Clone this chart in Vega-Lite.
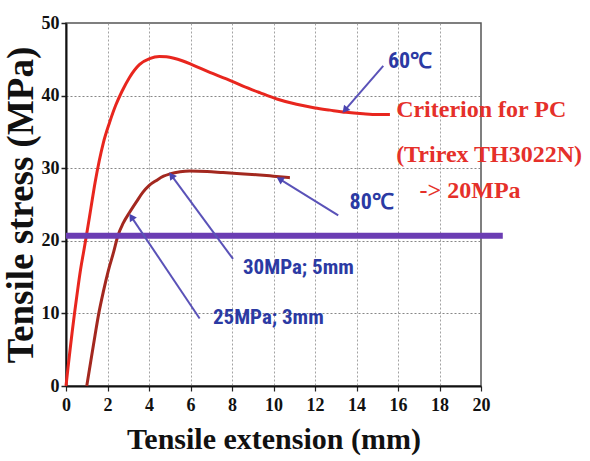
{
  "$schema": "https://vega.github.io/schema/vega-lite/v6.json",
  "width": 415,
  "height": 363,
  "autosize": "none",
  "padding": {"left": 66, "top": 23, "right": 109, "bottom": 75},
  "background": "white",
  "datasets": {
    "curves": [
      {"series": "60", "x": 0, "y": 0},
      {"series": "60", "x": 0.1, "y": 2.6},
      {"series": "60", "x": 0.2, "y": 5.1},
      {"series": "60", "x": 0.3, "y": 7.5},
      {"series": "60", "x": 0.41, "y": 10},
      {"series": "60", "x": 0.55, "y": 13},
      {"series": "60", "x": 0.7, "y": 16},
      {"series": "60", "x": 0.85, "y": 18.5},
      {"series": "60", "x": 1.0, "y": 21},
      {"series": "60", "x": 1.2, "y": 24.5},
      {"series": "60", "x": 1.4, "y": 28},
      {"series": "60", "x": 1.6, "y": 31},
      {"series": "60", "x": 1.8, "y": 33.5},
      {"series": "60", "x": 2.1, "y": 36.3},
      {"series": "60", "x": 2.4, "y": 38.7},
      {"series": "60", "x": 2.7, "y": 40.6},
      {"series": "60", "x": 3.06, "y": 42.5},
      {"series": "60", "x": 3.55, "y": 44.3},
      {"series": "60", "x": 4.03, "y": 45.1},
      {"series": "60", "x": 4.5, "y": 45.4},
      {"series": "60", "x": 4.84, "y": 45.35},
      {"series": "60", "x": 5.2, "y": 45.15},
      {"series": "60", "x": 5.6, "y": 44.8},
      {"series": "60", "x": 6.12, "y": 44.2},
      {"series": "60", "x": 6.93, "y": 43.2},
      {"series": "60", "x": 7.73, "y": 42.3},
      {"series": "60", "x": 8.53, "y": 41.3},
      {"series": "60", "x": 9.34, "y": 40.4},
      {"series": "60", "x": 10.2, "y": 39.5},
      {"series": "60", "x": 11.11, "y": 38.8},
      {"series": "60", "x": 12.0, "y": 38.3},
      {"series": "60", "x": 12.72, "y": 38.0},
      {"series": "60", "x": 13.5, "y": 37.7},
      {"series": "60", "x": 14.32, "y": 37.5},
      {"series": "60", "x": 15.0, "y": 37.4},
      {"series": "60", "x": 15.61, "y": 37.4},
      {"series": "80", "x": 1.0, "y": 0},
      {"series": "80", "x": 1.2, "y": 3.5},
      {"series": "80", "x": 1.4, "y": 7},
      {"series": "80", "x": 1.58, "y": 10},
      {"series": "80", "x": 1.8, "y": 13},
      {"series": "80", "x": 2.05, "y": 16},
      {"series": "80", "x": 2.3, "y": 18.5},
      {"series": "80", "x": 2.5, "y": 20.7},
      {"series": "80", "x": 2.75, "y": 22.4},
      {"series": "80", "x": 3.06, "y": 23.9},
      {"series": "80", "x": 3.4, "y": 25.4},
      {"series": "80", "x": 3.71, "y": 26.7},
      {"series": "80", "x": 4.0, "y": 27.6},
      {"series": "80", "x": 4.35, "y": 28.3},
      {"series": "80", "x": 4.7, "y": 28.9},
      {"series": "80", "x": 5.0, "y": 29.2},
      {"series": "80", "x": 5.5, "y": 29.5},
      {"series": "80", "x": 5.96, "y": 29.6},
      {"series": "80", "x": 6.8, "y": 29.55},
      {"series": "80", "x": 7.57, "y": 29.4},
      {"series": "80", "x": 8.4, "y": 29.25},
      {"series": "80", "x": 9.18, "y": 29.1},
      {"series": "80", "x": 10.0, "y": 28.9},
      {"series": "80", "x": 10.79, "y": 28.7}
    ],
    "criterion": [{"x": 0, "x2": 21.05, "y": 20.7}],
    "arrows": [
      {"name": "60C", "hx": 13.44, "hy": 38.0, "tx": 15.29, "ty": 44.1},
      {"name": "80C", "hx": 10.3, "hy": 28.5, "tx": 13.12, "ty": 23.5},
      {"name": "30MPa", "hx": 5.08, "hy": 29.0, "tx": 8.05, "ty": 17.5},
      {"name": "25MPa", "hx": 3.15, "hy": 23.3, "tx": 6.44, "ty": 9.3}
    ],
    "blueCenter": [
      {"text": "60℃", "x": 16.58, "y": 44.8},
      {"text": "80℃", "x": 14.73, "y": 25.3}
    ],
    "blueLeft": [
      {"text": "30MPa; 5mm", "x": 8.53, "y": 16.2},
      {"text": "25MPa; 3mm", "x": 7.08, "y": 9.3}
    ],
    "redText": [
      {"text": "Criterion for PC", "x": 15.91, "y": 38.0},
      {"text": "(Trirex TH3022N)", "x": 15.91, "y": 31.8},
      {"text": "-> 20MPa", "x": 17.04, "y": 26.8}
    ]
  },
  "layer": [
    {
      "data": {"name": "curves"},
      "mark": {"type": "line", "interpolate": "monotone", "strokeWidth": 3},
      "encoding": {
        "x": {
          "field": "x", "type": "quantitative",
          "scale": {"domain": [0, 20], "nice": false, "zero": false},
          "axis": {
            "title": "Tensile extension (mm)",
            "values": [0,1,2,3,4,5,6,7,8,9,10,11,12,13,14,15,16,17,18,19,20],
            "labelExpr": "datum.value % 2 === 0 ? datum.label : ''",
            "labelFont": "Liberation Serif", "labelFontWeight": "bold", "labelFontSize": 18,
            "labelColor": "#111", "labelPadding": 5, "labelFlush": false,
            "tickSize": 5, "tickColor": "#222", "tickWidth": 1.2,
            "domainColor": "#111", "domainWidth": 2,
            "grid": true, "gridColor": "#8c8c8c", "gridDash": [2, 2], "gridWidth": 1,
            "gridOpacity": {"condition": {"test": "datum.value > 0 && datum.value < 20", "value": 0.8}, "value": 0},
            "titleFont": "Liberation Serif", "titleFontWeight": "bold", "titleFontSize": 30,
            "titleColor": "#111", "titlePadding": 10
          }
        },
        "y": {
          "field": "y", "type": "quantitative",
          "scale": {"domain": [0, 50], "nice": false, "zero": false},
          "axis": {
            "title": "Tensile stress (MPa)",
            "values": [0,5,10,15,20,25,30,35,40,45,50],
            "labelExpr": "datum.value % 10 === 0 ? datum.label : ''",
            "labelFont": "Liberation Serif", "labelFontWeight": "bold", "labelFontSize": 18,
            "labelColor": "#111", "labelPadding": 2, "labelFlush": false,
            "tickSize": 5, "tickColor": "#222", "tickWidth": 1.5,
            "domainColor": "#111", "domainWidth": 2,
            "grid": true, "gridColor": "#7a7a7a", "gridDash": [2, 2], "gridWidth": 1.2,
            "gridOpacity": {"condition": {"test": "datum.value % 10 === 0 && datum.value > 0 && datum.value < 50", "value": 0.9}, "value": 0},
            "titleFont": "Liberation Serif", "titleFontWeight": "bold", "titleFontSize": 37,
            "titleColor": "#111", "titlePadding": 1
          }
        },
        "color": {
          "field": "series", "type": "nominal",
          "scale": {"domain": ["60", "80"], "range": ["#e8261e", "#a3281f"]},
          "legend": null
        },
        "order": {"field": "x", "type": "quantitative"}
      }
    },
    {
      "data": {"name": "criterion"},
      "mark": {"type": "rule", "color": "#6b3db3", "strokeWidth": 6},
      "encoding": {
        "x": {"field": "x", "type": "quantitative"},
        "x2": {"field": "x2"},
        "y": {"field": "y", "type": "quantitative"}
      }
    },
    {
      "data": {"name": "arrows"},
      "mark": {"type": "rule", "color": "#5a52b8", "strokeWidth": 2},
      "encoding": {
        "x": {"field": "tx", "type": "quantitative"},
        "y": {"field": "ty", "type": "quantitative"},
        "x2": {"field": "hx"},
        "y2": {"field": "hy"}
      }
    },
    {
      "data": {"name": "arrows"},
      "transform": [
        {"calculate": "atan2((datum.hx - datum.tx) * 20.75, (datum.hy - datum.ty) * 7.26) * 180 / PI", "as": "ang"}
      ],
      "mark": {"type": "point", "shape": "triangle-up", "filled": true, "color": "#4a44b0", "size": 70, "opacity": 1},
      "encoding": {
        "x": {"field": "hx", "type": "quantitative"},
        "y": {"field": "hy", "type": "quantitative"},
        "angle": {"field": "ang", "type": "quantitative", "scale": null}
      }
    },
    {
      "data": {"name": "blueCenter"},
      "mark": {"type": "text", "align": "center", "baseline": "middle", "font": "Liberation Sans Narrow, Roboto Condensed, Roboto, sans-serif", "fontWeight": "bold", "fontSize": 22, "color": "#2b3aa3"},
      "encoding": {
        "x": {"field": "x", "type": "quantitative"},
        "y": {"field": "y", "type": "quantitative"},
        "text": {"field": "text"}
      }
    },
    {
      "data": {"name": "blueLeft"},
      "mark": {"type": "text", "align": "left", "baseline": "middle", "font": "Liberation Sans Narrow, Roboto Condensed, Roboto, sans-serif", "fontWeight": "bold", "fontSize": 21, "color": "#2b3aa3"},
      "encoding": {
        "x": {"field": "x", "type": "quantitative"},
        "y": {"field": "y", "type": "quantitative"},
        "text": {"field": "text"}
      }
    },
    {
      "data": {"name": "redText"},
      "mark": {"type": "text", "align": "left", "baseline": "middle", "font": "Liberation Serif", "fontWeight": "bold", "fontSize": 24, "color": "#e5302a"},
      "encoding": {
        "x": {"field": "x", "type": "quantitative"},
        "y": {"field": "y", "type": "quantitative"},
        "text": {"field": "text"}
      }
    }
  ],
  "config": {
    "view": {"stroke": "#555", "strokeWidth": 1.5}
  }
}
